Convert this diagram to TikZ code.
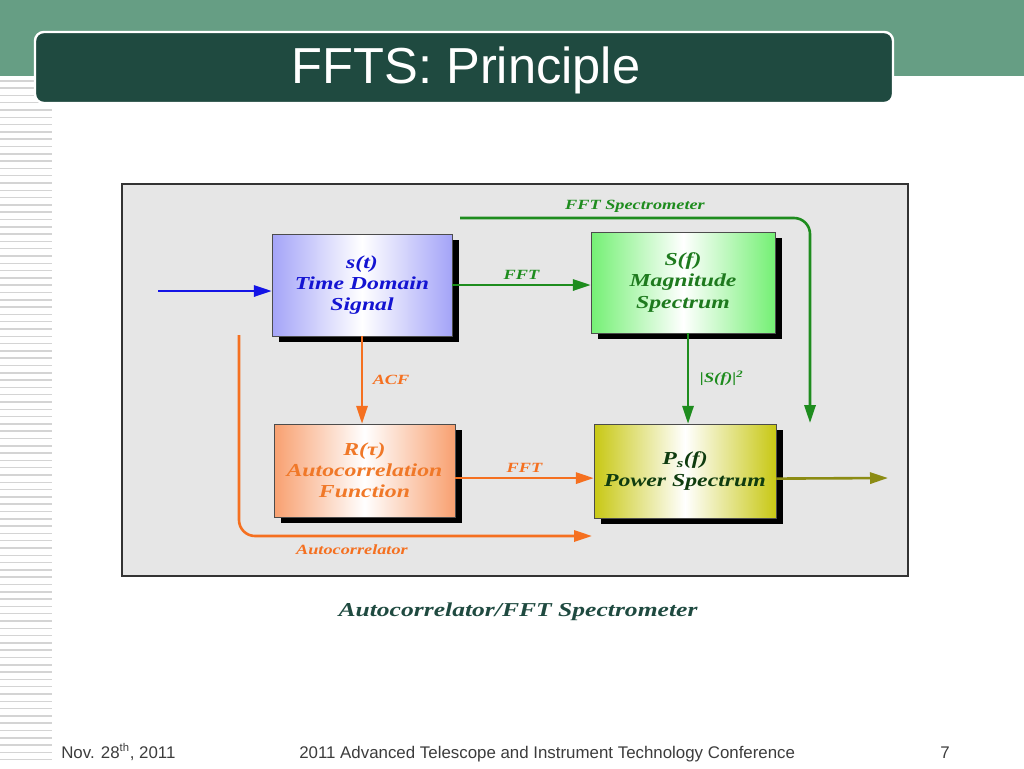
\documentclass[tikz,border=0pt]{standalone}
\usepackage{fontspec}
\setmainfont{Liberation Sans}
\newfontfamily\boxfont[FakeStretch=1.3]{Liberation Serif}
\usetikzlibrary{arrows.meta, shadows}

\definecolor{band}{HTML}{669E84}
\definecolor{titlebg}{HTML}{1F4A40}
\definecolor{framebg}{HTML}{E6E6E6}
\definecolor{stripe}{HTML}{D4D4D4}
\definecolor{tblue}{HTML}{1414D2}
\definecolor{fblue}{HTML}{A4A4F8}
\definecolor{ablue}{HTML}{1414E6}
\definecolor{tgreen}{HTML}{1E7A1E}
\definecolor{fgreen}{HTML}{74F074}
\definecolor{agreen}{HTML}{1E8C1E}
\definecolor{torange}{HTML}{F07828}
\definecolor{forange}{HTML}{F8A070}
\definecolor{aorange}{HTML}{F57020}
\definecolor{folive}{HTML}{C8C814}
\definecolor{aolive}{HTML}{8C8C14}
\definecolor{tolive}{HTML}{0F3C0F}
\definecolor{footgray}{HTML}{3C3C3C}

\tikzset{
  block/.style={draw=black!70, line width=.3pt, inner sep=0pt, align=center,
    font=\boxfont\bfseries\itshape\fontsize{13}{15}\selectfont,
    drop shadow={shadow xshift=1.8mm, shadow yshift=-1.5mm, fill=black, opacity=1}},
  flow/.style={line width=.65mm, -{Triangle[length=4.5mm,width=2.8mm]}},
  lbl/.style={font=\boxfont\bfseries\itshape\fontsize{10}{12}\selectfont},
  foot/.style={text=footgray, font=\fontsize{12}{14}\selectfont, anchor=base west, inner sep=0pt},
}

\begin{document}
\begin{tikzpicture}[x=.25mm, y=-.25mm]
  \useasboundingbox (0,0) rectangle (1024,768);

  % slide background
  \fill[band] (0,0) rectangle (1024,76);
  \foreach \k in {0,...,93}
    \fill[stripe] (0,{80+7.3*\k}) rectangle (52,{81.5+7.3*\k});
  \draw[white, line width=.6mm, fill=titlebg, rounded corners=2.2mm] (35,32) rectangle (893,103);
  \node[text=white, font=\fontsize{36}{40}\selectfont, anchor=base] (title) at (466,83) {FFTS: Principle};

  % diagram
  \draw[black!80, line width=.3mm, fill=framebg] (122,184) rectangle (908,576);

  \node[block, left color=fblue, right color=fblue, middle color=white, text=tblue,
    minimum width=45mm, minimum height=25.5mm] (s) at (362,285) {s(t)\\Time Domain\\Signal};
  \node[block, left color=fgreen, right color=fgreen, middle color=white, text=tgreen,
    minimum width=46mm, minimum height=25.25mm] (S) at (683,282.5) {S(f)\\Magnitude\\Spectrum};
  \node[block, left color=forange, right color=forange, middle color=white, text=torange,
    minimum width=45.25mm, minimum height=23.25mm] (R) at (364.5,470.5) {R(τ)\\Autocorrelation\\Function};
  \node[block, left color=folive, right color=folive, middle color=white, text=tolive,
    minimum width=45.5mm, minimum height=23.5mm] (P) at (685,471) {P\textsubscript{s}(f)\\Power Spectrum};

  \coordinate (in) at (158,291);
  \coordinate (fsa) at (460,218);
  \coordinate (fsb) at (810,423);
  \coordinate (aca) at (239,335);
  \coordinate (acb) at (592,536);
  \coordinate (out) at (888,478);

  \draw[flow, ablue] (in) -- (in -| s.west);
  \draw[flow, agreen] (s.east) -- node[lbl, text=agreen, above] {FFT} (s.east -| S.west);
  \draw[flow, agreen, rounded corners=4mm] (fsa) -| node[lbl, text=agreen, pos=.25, above] {FFT Spectrometer} (fsb);
  \draw[flow, agreen] ([xshift=1.25mm]S.south) -- node[lbl, text=agreen, right=1.5mm] {|S(f)|\textsuperscript{2}} ([xshift=1.25mm]S.south |- P.north);
  \draw[flow, aorange] (s.south) -- node[lbl, text=aorange, right=1.2mm] {ACF} (s.south |- R.north);
  \draw[flow, aorange] ([yshift=-1.9mm]R.east) -- node[lbl, text=aorange, above] {FFT} ([yshift=-1.9mm]R.east -| P.west);
  \draw[flow, aorange, rounded corners=4mm] (aca) |- node[lbl, text=aorange, pos=.66, below=.8mm] {Autocorrelator} (acb);
  \draw[flow, aolive] ([yshift=-1.9mm]P.east) -- (out);

  \node[text=titlebg, font=\boxfont\bfseries\itshape\fontsize{14}{16}\selectfont] (caption) at (518,612) {Autocorrelator/FFT Spectrometer};

  % footer
  \node[foot] (date) at (61,758) {Nov. 28\textsuperscript{th}, 2011};
  \node[foot] (conf) at (299,758) {2011 Advanced Telescope and Instrument Technology Conference};
  \node[foot] (page) at (940,758) {7};
\end{tikzpicture}
\end{document}
